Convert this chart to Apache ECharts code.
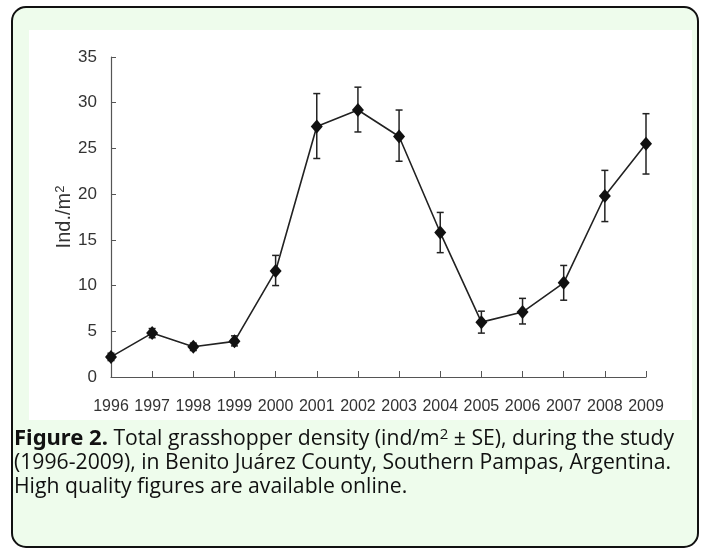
<!DOCTYPE html>
<html>
<head>
<meta charset="utf-8">
<script src="https://cdn.jsdelivr.net/npm/echarts@6/dist/echarts.min.js"></script>
<style>
html,body{margin:0;padding:0;background:#fff;}
#main{width:707px;height:555px;}
</style>
</head>
<body>
<div id="main"></div>
<script>
const years = ['1996','1997','1998','1999','2000','2001','2002','2003','2004','2005','2006','2007','2008','2009'];
const density = [2.2, 4.8, 3.3, 3.9, 11.6, 27.4, 29.2, 26.3, 15.8, 6.0, 7.1, 10.3, 19.8, 25.5];
const seUpper = [2.6, 5.3, 3.7, 4.5, 13.3, 31.0, 31.7, 29.2, 18.0, 7.2, 8.6, 12.2, 22.6, 28.8];
const seLower = [1.8, 4.3, 2.9, 3.4, 10.0, 23.9, 26.8, 23.6, 13.6, 4.8, 5.8, 8.4, 17.0, 22.2];
const yTicks = [0, 5, 10, 15, 20, 25, 30, 35];

const chart = echarts.init(document.getElementById('main'));
const errData = years.map((y, i) => [i, seLower[i], seUpper[i]]);

chart.setOption({
  animation: false,
  backgroundColor: '#ffffff',
  graphic: [
    { type: 'rect', z: -10, shape: { x: 12, y: 7, width: 686, height: 540, r: 14 },
      style: { fill: '#eefcec', stroke: '#111', lineWidth: 2 } },
    { type: 'rect', z: -9, shape: { x: 29, y: 30, width: 663, height: 390 },
      style: { fill: '#ffffff' } },
    { type: 'text', left: 14, top: 427, z: 10,
      style: {
        text: '{b|Figure 2.} Total grasshopper density (ind/m{s|2} ± SE), during the study\n(1996-2009), in Benito Juárez County, Southern Pampas, Argentina.\nHigh quality figures are available online.',
        font: '21.2px "Open Sans", "Noto Sans", sans-serif',
        fill: '#111',
        lineHeight: 24,
        rich: {
          b: { fontWeight: 'bold', fontSize: 22, fontFamily: '"Noto Sans", sans-serif', fill: '#111', lineHeight: 24 },
          s: { fontSize: 15, verticalAlign: 'top', fill: '#111', lineHeight: 24, fontFamily: '"Open Sans", sans-serif' }
        }
      } }
  ],
  grid: { left: 111, right: 61, top: 57, bottom: 178, containLabel: false },
  xAxis: {
    type: 'category', data: years, boundaryGap: false,
    axisLine: { lineStyle: { color: '#555', width: 1.2 } },
    axisTick: { inside: true, length: 6, lineStyle: { color: '#555' } },
    axisLabel: { color: '#333', fontSize: 16, fontFamily: '"Liberation Sans", Arial, sans-serif', margin: 22, interval: 0 },
    splitLine: { show: false }
  },
  yAxis: {
    type: 'value', min: 0, max: 35, interval: 5,
    name: '{n|Ind./m}{s|2}', nameLocation: 'middle', nameGap: 37, nameRotate: 90,
    nameMoveOverlap: false,
    nameTextStyle: { color: '#333', fontSize: 20, fontFamily: '"Liberation Sans", Arial, sans-serif',
      rich: {
        n: { fontSize: 20, color: '#333', fontFamily: '"Liberation Sans", Arial, sans-serif' },
        s: { fontSize: 13, verticalAlign: 'top', color: '#333', fontFamily: '"Liberation Sans", Arial, sans-serif' }
      } },
    axisLine: { show: true, lineStyle: { color: '#555', width: 1.2 } },
    axisTick: { show: true, inside: true, length: 5, lineStyle: { color: '#555' } },
    axisLabel: { color: '#333', fontSize: 17, fontFamily: '"Liberation Sans", Arial, sans-serif', margin: 14,
      formatter: v => yTicks.includes(v) ? String(v) : '' },
    splitLine: { show: false }
  },
  series: [
    {
      type: 'custom', name: 'SE', data: errData, z: 3,
      renderItem: function (params, api) {
        const x = api.value(0);
        const lo = api.coord([x, api.value(1)]);
        const hi = api.coord([x, api.value(2)]);
        const w = 3.5;
        const st = { stroke: '#222', lineWidth: 1.5 };
        return { type: 'group', children: [
          { type: 'line', shape: { x1: lo[0], y1: lo[1], x2: hi[0], y2: hi[1] }, style: st },
          { type: 'line', shape: { x1: lo[0]-w, y1: lo[1], x2: lo[0]+w, y2: lo[1] }, style: st },
          { type: 'line', shape: { x1: hi[0]-w, y1: hi[1], x2: hi[0]+w, y2: hi[1] }, style: st }
        ]};
      }
    },
    {
      type: 'line', name: 'Density', data: density, z: 4,
      symbol: 'diamond', symbolSize: [12, 14],
      lineStyle: { color: '#222', width: 1.6 },
      itemStyle: { color: '#111' }
    }
  ]
});
</script>
</body>
</html>
